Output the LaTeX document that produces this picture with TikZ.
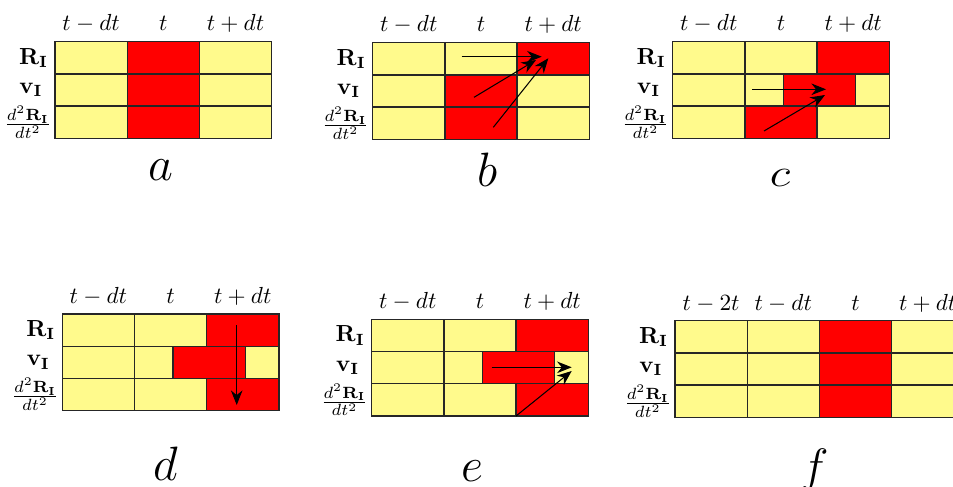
\documentclass[tikz,border=0pt]{standalone}
\usepackage{graphicx}
\usetikzlibrary{arrows.meta}
\definecolor{cellyellow}{RGB}{255,250,140}
\definecolor{cellred}{RGB}{255,0,0}
\tikzset{
  ycell/.style={fill=cellyellow, draw=black!85, line width=0.55pt},
  rcell/.style={fill=cellred, draw=black!85, line width=0.55pt},
  hdr/.style={anchor=base, inner sep=0pt, font=\normalsize},
  rowlab/.style={anchor=east, inner sep=0pt},
  panlab/.style={anchor=base, inner sep=0pt, font=\huge},
  arr/.style={-{Stealth[length=6.3pt,width=5pt]}, line width=0.45pt, black},
}
\newcommand\pcell[5]{\path[#1] (#2,#4) rectangle (#3,#5);}
\newcommand\rowlabels[1]{%
  \node[rowlab] (#1R) at (-6.5,16.1) {$\mathbf{R_I}$};
  \node[rowlab] (#1v) at (-12,48.3) {$\mathbf{v_I}$};
  \node[rowlab] (#1acc) at (-3,80.5) {$\frac{d^2\mathbf{R_I}}{dt^2}$};}
\newcommand\headers[1]{%
  \node[hdr] (#1h1) at (36.1,-11) {$t-dt$};
  \node[hdr] (#1h2) at (108.3,-11) {$t$};
  \node[hdr] (#1h3) at (180.5,-11) {$t+dt$};}
\begin{document}
\begin{tikzpicture}[x=0.43pt,y=-0.43pt]
\useasboundingbox (0,0) rectangle (953,486);
\clip (0,0) rectangle (953,486);
% ---------------- panel a
\begin{scope}[shift={(55,41.7)}]
  \foreach \r in {0,1,2}{
    \pcell{ycell}{0}{72.2}{\r*32.2}{\r*32.2+32.2}
    \pcell{rcell}{72.2}{144.4}{\r*32.2}{\r*32.2+32.2}
    \pcell{ycell}{144.4}{216.6}{\r*32.2}{\r*32.2+32.2}
  }
  \rowlabels{a}
  \headers{a}
\end{scope}
\node[panlab] (la) at (161,180) {$a$};
% ---------------- panel b
\begin{scope}[shift={(372.7,42.7)}]
  \pcell{ycell}{0}{72.2}{0}{32.2}
  \pcell{ycell}{72.2}{144.4}{0}{32.2}
  \pcell{rcell}{144.4}{216.6}{0}{32.2}
  \pcell{ycell}{0}{72.2}{32.2}{64.4}
  \pcell{rcell}{72.2}{144.4}{32.2}{64.4}
  \pcell{ycell}{144.4}{216.6}{32.2}{64.4}
  \pcell{ycell}{0}{72.2}{64.4}{96.6}
  \pcell{rcell}{72.2}{144.4}{64.4}{96.6}
  \pcell{ycell}{144.4}{216.6}{64.4}{96.6}
  \rowlabels{b}
  \headers{b}
  \coordinate (b1s) at (89,14);
  \coordinate (b1e) at (169,14);
  \coordinate (b2s) at (101.3,54.6);
  \coordinate (b2e) at (163.3,17.3);
  \coordinate (b3s) at (120.6,84.6);
  \coordinate (b3e) at (175.6,15.6);
  \draw[arr] (b1s) -- (b1e);
  \draw[arr] (b2s) -- (b2e);
  \draw[arr] (b3s) -- (b3e);
\end{scope}
\node[panlab] (lb) at (487.5,186.7) {$b$};
% ---------------- panel c
\begin{scope}[shift={(672.7,41.7)}]
  \pcell{ycell}{0}{72.2}{0}{32.2}
  \pcell{ycell}{72.2}{144.4}{0}{32.2}
  \pcell{rcell}{144.4}{216.6}{0}{32.2}
  \pcell{ycell}{0}{72.2}{32.2}{64.4}
  \pcell{ycell}{72.2}{110.6}{32.2}{64.4}
  \pcell{rcell}{110.6}{183}{32.2}{64.4}
  \pcell{ycell}{183}{216.6}{32.2}{64.4}
  \pcell{ycell}{0}{72.2}{64.4}{96.6}
  \pcell{rcell}{72.2}{144.4}{64.4}{96.6}
  \pcell{ycell}{144.4}{216.6}{64.4}{96.6}
  \rowlabels{c}
  \headers{c}
  \coordinate (c1s) at (79.6,47.6);
  \coordinate (c1e) at (153.3,47.6);
  \coordinate (c2s) at (91.3,89.3);
  \coordinate (c2e) at (152.3,53.3);
  \draw[arr] (c1s) -- (c1e);
  \draw[arr] (c2s) -- (c2e);
\end{scope}
\node[panlab] (lc) at (780,186.7) {\scalebox{1}[0.82]{$c$}};
% ---------------- panel d
\begin{scope}[shift={(62.3,314)}]
  \pcell{ycell}{0}{72.2}{0}{32.2}
  \pcell{ycell}{72.2}{144.4}{0}{32.2}
  \pcell{rcell}{144.4}{216.6}{0}{32.2}
  \pcell{ycell}{0}{72.2}{32.2}{64.4}
  \pcell{ycell}{72.2}{110.6}{32.2}{64.4}
  \pcell{rcell}{110.6}{183}{32.2}{64.4}
  \pcell{ycell}{183}{216.6}{32.2}{64.4}
  \pcell{ycell}{0}{72.2}{64.4}{96.6}
  \pcell{ycell}{72.2}{144.4}{64.4}{96.6}
  \pcell{rcell}{144.4}{216.6}{64.4}{96.6}
  \rowlabels{d}
  \headers{d}
  \coordinate (d1s) at (174.4,11);
  \coordinate (d1e) at (174.4,91);
  \draw[arr] (d1s) -- (d1e);
\end{scope}
\node[panlab] (ld) at (166,480) {$d$};
% ---------------- panel e
\begin{scope}[shift={(371.7,319.3)}]
  \pcell{ycell}{0}{72.2}{0}{32.2}
  \pcell{ycell}{72.2}{144.4}{0}{32.2}
  \pcell{rcell}{144.4}{216.6}{0}{32.2}
  \pcell{ycell}{0}{72.2}{32.2}{64.4}
  \pcell{ycell}{72.2}{110.6}{32.2}{64.4}
  \pcell{rcell}{110.6}{183}{32.2}{64.4}
  \pcell{ycell}{183}{216.6}{32.2}{64.4}
  \pcell{ycell}{0}{72.2}{64.4}{96.6}
  \pcell{ycell}{72.2}{144.4}{64.4}{96.6}
  \pcell{rcell}{144.4}{216.6}{64.4}{96.6}
  \rowlabels{e}
  \headers{e}
  \coordinate (e1s) at (120,48);
  \coordinate (e1e) at (200,48);
  \coordinate (e2s) at (144.3,96.7);
  \coordinate (e2e) at (200,51.7);
  \draw[arr] (e1s) -- (e1e);
  \draw[arr] (e2s) -- (e2e);
\end{scope}
\node[panlab] (le) at (472.5,481) {$e$};
% ---------------- panel f
\begin{scope}[shift={(675,320.7)}]
  \foreach \r in {0,1,2}{
    \pcell{ycell}{0}{72.2}{\r*32.2}{\r*32.2+32.2}
    \pcell{ycell}{72.2}{144.4}{\r*32.2}{\r*32.2+32.2}
    \pcell{rcell}{144.4}{216.6}{\r*32.2}{\r*32.2+32.2}
    \pcell{ycell}{216.6}{288.8}{\r*32.2}{\r*32.2+32.2}
  }
  \rowlabels{f}
  \node[hdr] (fh1) at (36.1,-10) {$t-2t$};
  \node[hdr] (fh2) at (108.3,-10) {$t-dt$};
  \node[hdr] (fh3) at (180.5,-10) {$t$};
  \node[hdr] (fh4) at (252.7,-10) {$t+dt$};
\end{scope}
\node[panlab] (lf) at (815,482) {$f$};
\end{tikzpicture}
\end{document}
